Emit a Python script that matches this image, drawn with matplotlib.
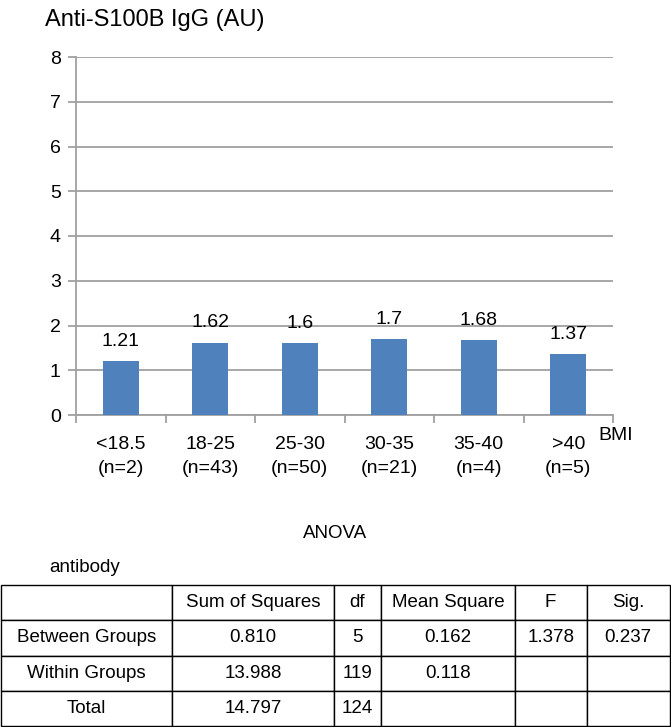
import matplotlib
matplotlib.use("Agg")
import matplotlib.pyplot as plt
import numpy as np

plt.rcParams['font.family'] = ['Liberation Sans', 'DejaVu Sans']

categories = ["<18.5\n(n=2)", "18-25\n(n=43)", "25-30\n(n=50)", "30-35\n(n=21)", "35-40\n(n=4)", ">40\n(n=5)"]
values = [1.21, 1.62, 1.6, 1.7, 1.68, 1.37]
value_labels = ["1.21", "1.62", "1.6", "1.7", "1.68", "1.37"]
yticks = [0, 1, 2, 3, 4, 5, 6, 7, 8]

table_header = ["", "Sum of Squares", "df", "Mean Square", "F", "Sig."]
table_rows = [
    ["Between Groups", "0.810", "5", "0.162", "1.378", "0.237"],
    ["Within Groups", "13.988", "119", "0.118", "", ""],
    ["Total", "14.797", "124", "", "", ""],
]

W, H = 671, 727
fig = plt.figure(figsize=(W / 100, H / 100), dpi=100)

grid_c = "#a0a0a0"
bar_c = "#4f81bd"
fs = 14

ax = fig.add_axes([76 / W, 1 - 415 / H, (613 - 76) / W, (415 - 57) / H])
x = np.arange(len(categories))
ax.bar(x, values, width=0.4, color=bar_c, zorder=3)
for xi, v, lab in zip(x, values, value_labels):
    ax.annotate(lab, (xi, v), xytext=(0, 8), textcoords="offset points",
                ha="center", va="bottom", fontsize=fs)
ax.set_xlim(-0.5, len(categories) - 0.5)
ax.set_ylim(0, 8)
ax.set_yticks(yticks)
ax.set_yticklabels([str(t) for t in yticks], fontsize=fs)
ax.yaxis.grid(True, color=grid_c, linewidth=1.3, zorder=0)
ax.set_xticks(x)
ax.set_xticklabels(categories, fontsize=fs, linespacing=1.55)
ax.tick_params(axis='x', length=0, pad=15)
ax.set_xticks(np.arange(len(categories) + 1) - 0.5, minor=True)
ax.tick_params(axis='x', which='minor', length=6, color=grid_c, width=1.3)
ax.tick_params(axis='y', length=6, color=grid_c, width=1.3, pad=5)
for s in ['top', 'right']:
    ax.spines[s].set_visible(False)
for s in ['left', 'bottom']:
    ax.spines[s].set_color(grid_c)
    ax.spines[s].set_linewidth(1.3)

fig.text(45 / W, 1 - 20 / H, "Anti-S100B IgG (AU)", fontsize=17, va="center", ha="left")
fig.text(598 / W, 1 - 435 / H, "BMI", fontsize=fs, va="center", ha="left")

fig.text(335 / W, 1 - 533 / H, "ANOVA", fontsize=13.5, ha="center", va="center")
fig.text(49 / W, 1 - 567 / H, "antibody", fontsize=13.5, ha="left", va="center")

tax = fig.add_axes([0.5 / W, 1 - 726 / H, 669 / W, (726 - 585) / H])
tax.axis('off')
col_w = np.array([172, 162, 47, 134, 72, 83], dtype=float)
col_w = col_w / col_w.sum()
tbl = tax.table(cellText=[table_header] + table_rows, colWidths=list(col_w),
                cellLoc='center', bbox=[0, 0, 1, 1])
tbl.auto_set_font_size(False)
for (r, c), cell in tbl.get_celld().items():
    cell.set_fontsize(13.5)
    cell.set_linewidth(1.0)
    cell.set_edgecolor("black")

fig.savefig("out.png", dpi=100)
